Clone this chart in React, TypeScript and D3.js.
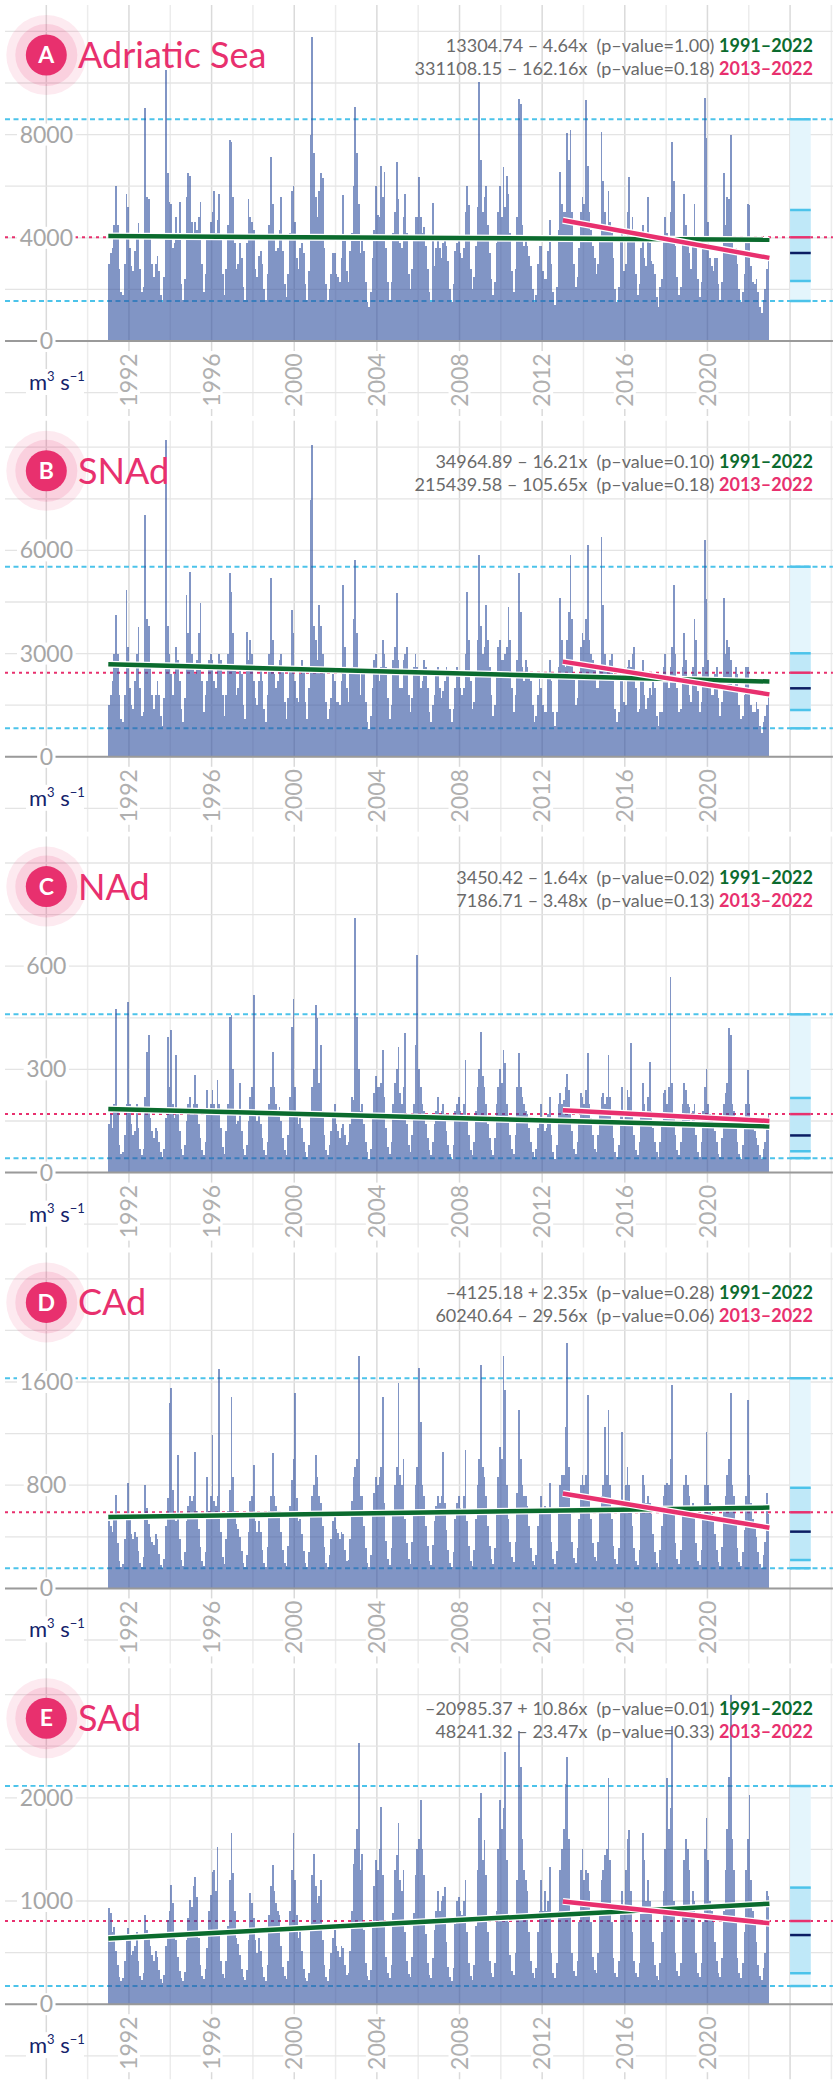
import * as d3 from 'd3';

// Monthly discharge (m3 s-1), Jan 1991 .. Dec 2022, one row per year
const adriatic = [
  [3000, 3400, 3600, 4500, 6000, 4500, 2800, 1900, 1800, 3000, 5700, 5200],
  [3600, 2900, 2700, 3500, 4000, 4560, 2800, 1900, 2100, 9040, 5600, 5500],
  [4200, 3000, 2500, 3000, 3300, 2700, 1800, 1500, 2500, 10500, 6500, 5400],
  [5300, 3600, 3800, 4800, 4200, 5400, 2200, 1600, 2400, 5600, 6500, 6400],
  [4600, 4200, 4600, 4300, 4800, 5400, 3000, 1900, 2600, 3900, 4000, 4600],
  [5000, 5800, 4200, 4700, 5700, 4000, 2600, 1800, 2800, 4500, 7800, 7700],
  [5600, 3800, 2800, 3000, 3800, 3200, 2100, 1600, 3800, 5500, 4800, 4600],
  [4300, 2800, 2500, 3300, 3500, 3000, 2000, 1600, 2600, 4500, 7150, 5300],
  [4000, 3500, 3600, 4300, 5600, 3500, 2200, 1700, 2600, 4200, 5800, 6000],
  [4600, 3200, 2800, 3600, 3800, 3400, 2200, 1600, 2700, 8000, 11800, 7270],
  [5600, 4800, 5800, 6500, 6300, 3600, 2200, 1600, 2000, 2600, 3400, 3400],
  [2600, 2500, 2300, 3200, 5650, 4000, 2700, 2300, 3500, 4200, 6000, 9080],
  [7300, 5300, 3400, 4000, 3500, 2300, 1500, 1300, 1900, 3200, 4300, 6000],
  [4900, 4800, 6800, 5600, 6560, 3600, 2300, 1600, 2300, 4200, 5000, 6950],
  [5500, 3800, 3600, 4800, 5700, 4200, 2600, 2000, 2800, 4000, 4800, 4800],
  [6370, 4800, 4200, 4400, 3700, 2800, 1900, 1500, 5340, 2900, 3600, 4000],
  [3600, 3200, 3800, 4000, 3700, 3100, 2000, 1500, 2200, 3500, 3800, 4000],
  [3400, 3200, 3600, 5000, 6000, 5260, 2800, 2000, 2500, 3700, 5200, 10050],
  [7000, 5000, 5600, 6000, 4500, 3400, 2400, 1800, 2300, 3800, 5000, 6000],
  [4800, 6750, 5200, 6400, 5700, 4200, 2700, 1900, 2800, 4800, 9370, 9200],
  [4500, 3700, 4000, 3700, 3300, 2900, 2000, 1500, 1800, 3000, 3700, 3700],
  [2700, 2400, 2400, 3500, 4700, 3000, 1900, 1400, 2100, 4300, 6560, 5300],
  [5000, 5000, 8050, 7000, 8180, 5000, 3000, 2100, 2500, 3600, 5000, 5600],
  [5300, 9340, 6800, 5000, 4300, 3700, 3200, 2600, 3000, 4000, 8110, 6200],
  [5000, 4500, 5800, 4600, 4200, 3200, 2000, 1500, 2100, 3900, 4200, 2700],
  [3000, 5000, 6370, 4300, 4800, 4000, 2600, 1800, 2200, 3600, 4500, 3200],
  [2900, 5600, 3800, 3100, 3000, 2600, 1700, 1300, 2100, 2400, 4000, 4800],
  [4200, 3800, 5000, 7730, 6200, 3700, 2500, 1800, 2100, 4000, 5700, 4500],
  [4000, 3400, 2800, 4000, 5300, 4000, 2400, 1700, 2300, 3800, 9400, 7850],
  [4600, 3200, 2900, 2700, 3200, 3200, 2200, 1600, 2300, 6500, 4500, 5600],
  [5500, 7980, 3800, 3400, 3600, 3000, 2000, 1500, 1900, 2600, 4000, 5300],
  [5270, 2900, 2300, 2200, 2400, 1900, 1300, 1100, 1600, 2000, 2800, 3200],
];

const snad = [
  [1500, 1800, 2200, 3000, 4120, 3000, 1800, 1100, 1000, 1800, 4849, 3200],
  [2000, 1500, 1400, 2200, 3000, 3783, 2000, 1200, 1300, 7025, 4000, 3800],
  [2600, 1800, 1400, 1800, 2200, 1800, 1200, 900, 1700, 9209, 3800, 3000],
  [2400, 1800, 2400, 3200, 2800, 2200, 1400, 1000, 1700, 4703, 3600, 5382],
  [3000, 2600, 2400, 2800, 3600, 4461, 2200, 1300, 1800, 2200, 2800, 3000],
  [2800, 2200, 2000, 2600, 3000, 2800, 1800, 1200, 1800, 3000, 5333, 4800],
  [3600, 2600, 1800, 2000, 2600, 2400, 1500, 1100, 3638, 2800, 3400, 3000],
  [2200, 1700, 1500, 2200, 2600, 2200, 1400, 1000, 1800, 3000, 5188, 3400],
  [2400, 2000, 2200, 2800, 3000, 2600, 1600, 1100, 1700, 2600, 4267, 3600],
  [2200, 1700, 1600, 2400, 2800, 2600, 1600, 1100, 2000, 7465, 9064, 3800],
  [3400, 2800, 4400, 3800, 3000, 2600, 1600, 1100, 1400, 1700, 2400, 2200],
  [1600, 1600, 1500, 2200, 4994, 3200, 2000, 1600, 2400, 2600, 4000, 5721],
  [3600, 2400, 1800, 2400, 2400, 1600, 1000, 800, 1200, 2000, 2800, 3000],
  [2400, 2200, 2600, 3400, 3000, 2600, 1700, 1100, 1500, 2800, 3200, 4752],
  [2800, 2000, 2000, 2800, 3000, 3200, 1800, 1300, 1700, 2600, 3000, 2600],
  [2400, 2000, 2200, 2800, 2600, 2000, 1300, 1000, 1500, 1800, 2400, 2600],
  [2000, 1700, 1900, 2200, 2600, 2400, 1400, 1000, 1400, 2000, 2600, 2400],
  [2000, 1800, 2000, 3000, 4800, 3400, 2200, 1400, 1600, 2400, 3400, 5866],
  [3800, 3000, 3200, 4400, 3400, 2600, 1800, 1200, 1500, 2400, 3200, 3400],
  [2800, 2800, 3000, 3200, 4364, 3400, 2000, 1300, 1800, 2800, 5333, 4200],
  [2600, 2200, 2800, 2600, 2400, 2200, 1500, 1000, 1200, 1800, 2400, 2000],
  [1500, 1300, 1300, 2400, 2800, 2200, 1300, 900, 1300, 2600, 4606, 3400],
  [2800, 2600, 3400, 4200, 5866, 4000, 2400, 1500, 1700, 2400, 3200, 3600],
  [3400, 4000, 6157, 3400, 3000, 2800, 2600, 2000, 2000, 2600, 6399, 4400],
  [3000, 2600, 2600, 2800, 3000, 2400, 1400, 1000, 1300, 2400, 2200, 1600],
  [1500, 2600, 2800, 2600, 3000, 3200, 2000, 1300, 1400, 2200, 2800, 1800],
  [1400, 1700, 2000, 1800, 2200, 2000, 1200, 900, 1300, 1300, 2600, 3000],
  [2200, 2000, 2600, 3200, 4994, 3000, 2000, 1300, 1400, 2600, 3600, 2800],
  [2200, 1800, 1600, 2600, 4000, 3400, 1900, 1300, 1600, 2600, 6300, 4600],
  [2800, 2000, 1800, 1800, 2400, 2600, 1700, 1200, 1600, 4606, 3000, 3400],
  [3200, 2800, 2000, 2000, 2600, 2400, 1500, 1100, 1200, 1800, 2600, 2600],
  [1900, 1500, 1300, 1300, 1600, 1400, 900, 700, 1000, 1200, 1500, 1800],
];

const nad = [
  [140, 170, 130, 200, 477, 180, 80, 55, 60, 110, 200, 497],
  [200, 140, 110, 120, 200, 130, 70, 50, 70, 220, 350, 400],
  [160, 120, 100, 130, 120, 90, 60, 45, 70, 160, 395, 250],
  [415, 200, 160, 342, 180, 120, 70, 50, 80, 150, 200, 220],
  [180, 200, 284, 200, 140, 100, 65, 50, 90, 240, 170, 200],
  [240, 200, 180, 270, 200, 130, 75, 55, 120, 200, 453, 458],
  [300, 180, 140, 150, 260, 120, 70, 50, 80, 150, 220, 250],
  [516, 180, 150, 170, 140, 100, 65, 50, 90, 200, 250, 351],
  [250, 200, 180, 190, 150, 100, 65, 50, 110, 220, 424, 504],
  [250, 180, 140, 160, 130, 90, 60, 45, 80, 170, 250, 300],
  [487, 450, 260, 371, 180, 110, 65, 50, 80, 120, 170, 200],
  [140, 120, 100, 130, 140, 110, 80, 90, 140, 220, 210, 740],
  [453, 300, 180, 200, 140, 90, 60, 40, 70, 160, 230, 280],
  [250, 250, 260, 356, 220, 130, 75, 55, 90, 200, 260, 300],
  [366, 230, 200, 250, 405, 140, 80, 60, 110, 200, 371, 633],
  [300, 250, 200, 180, 140, 100, 65, 50, 90, 140, 180, 220],
  [170, 180, 200, 170, 120, 80, 55, 40, 80, 180, 200, 220],
  [180, 170, 200, 327, 160, 110, 65, 50, 90, 180, 250, 300],
  [410, 280, 250, 200, 140, 100, 65, 50, 100, 200, 250, 300],
  [260, 356, 320, 200, 160, 110, 70, 55, 110, 250, 347, 250],
  [220, 200, 180, 170, 130, 90, 60, 45, 70, 130, 160, 200],
  [140, 120, 130, 170, 220, 110, 60, 40, 80, 200, 230, 200],
  [210, 250, 288, 240, 180, 120, 70, 55, 90, 160, 230, 220],
  [200, 240, 347, 200, 160, 110, 70, 60, 110, 180, 220, 230],
  [200, 220, 342, 220, 150, 100, 60, 45, 80, 170, 250, 150],
  [180, 240, 220, 376, 170, 110, 65, 50, 90, 180, 260, 200],
  [170, 220, 322, 180, 130, 90, 60, 45, 90, 150, 230, 240],
  [200, 250, 570, 260, 170, 110, 65, 50, 90, 200, 260, 240],
  [200, 190, 150, 180, 200, 110, 60, 45, 90, 180, 250, 300],
  [200, 170, 150, 140, 120, 90, 55, 45, 100, 200, 230, 260],
  [419, 400, 200, 180, 140, 90, 55, 40, 80, 130, 200, 298],
  [200, 160, 130, 120, 100, 80, 50, 40, 70, 90, 160, 170],
];

const cad = [
  [520, 480, 440, 560, 723, 350, 210, 165, 190, 380, 560, 814],
  [540, 420, 380, 440, 400, 290, 195, 165, 240, 800, 620, 500],
  [400, 360, 340, 420, 380, 270, 185, 155, 230, 480, 700, 1434],
  [1550, 760, 560, 520, 1033, 380, 220, 175, 280, 520, 640, 720],
  [680, 720, 1060, 600, 460, 320, 210, 175, 280, 866, 600, 720],
  [1190, 680, 640, 720, 1700, 440, 240, 190, 380, 600, 760, 1486],
  [860, 600, 500, 460, 400, 290, 195, 165, 260, 440, 680, 720],
  [956, 520, 440, 520, 440, 300, 200, 165, 320, 600, 720, 1046],
  [720, 640, 600, 600, 440, 300, 200, 175, 330, 640, 840, 1000],
  [1512, 700, 520, 540, 420, 290, 195, 165, 280, 560, 720, 800],
  [1033, 860, 720, 660, 480, 320, 200, 165, 260, 380, 520, 600],
  [460, 430, 380, 440, 420, 300, 210, 220, 380, 680, 860, 940],
  [1000, 1800, 720, 720, 480, 310, 200, 165, 260, 560, 740, 860],
  [800, 860, 940, 1486, 660, 370, 225, 180, 310, 600, 800, 940],
  [1589, 880, 800, 1000, 540, 350, 225, 190, 360, 600, 800, 940],
  [1706, 1292, 800, 720, 480, 330, 215, 180, 340, 520, 640, 720],
  [660, 720, 1060, 660, 450, 300, 200, 165, 280, 540, 660, 720],
  [620, 600, 720, 1072, 520, 330, 210, 175, 300, 540, 800, 1000],
  [1731, 940, 860, 720, 480, 330, 225, 190, 310, 600, 860, 1100],
  [1000, 1800, 1538, 800, 540, 360, 240, 205, 360, 740, 1383, 1000],
  [800, 720, 720, 640, 480, 310, 215, 180, 260, 480, 600, 720],
  [580, 640, 580, 620, 820, 360, 225, 190, 290, 600, 800, 880],
  [880, 1253, 1900, 940, 580, 360, 235, 200, 310, 540, 800, 880],
  [800, 880, 1499, 720, 540, 350, 240, 215, 360, 600, 720, 800],
  [1253, 880, 1383, 800, 540, 330, 225, 190, 310, 600, 1214, 660],
  [800, 940, 800, 660, 480, 310, 215, 180, 300, 600, 880, 800],
  [660, 720, 660, 580, 420, 280, 200, 165, 300, 480, 720, 800],
  [814, 800, 1000, 1576, 580, 350, 225, 190, 300, 600, 800, 880],
  [800, 720, 580, 660, 640, 350, 215, 180, 300, 540, 800, 1214],
  [800, 660, 580, 540, 420, 300, 205, 170, 320, 600, 720, 880],
  [1000, 1512, 800, 720, 500, 310, 205, 170, 280, 450, 720, 1460],
  [880, 660, 540, 500, 400, 280, 190, 155, 260, 360, 737, 580],
];

const sad = [
  [930, 880, 700, 750, 520, 380, 260, 220, 250, 420, 640, 735],
  [620, 480, 520, 560, 700, 420, 270, 230, 300, 860, 720, 680],
  [560, 480, 420, 520, 460, 330, 240, 210, 280, 560, 820, 900],
  [1155, 980, 700, 620, 460, 320, 250, 220, 310, 620, 840, 1010],
  [940, 1150, 1235, 1040, 640, 380, 270, 240, 340, 540, 900, 1060],
  [1284, 1300, 1100, 1526, 700, 420, 290, 250, 420, 760, 1200, 1655],
  [1270, 900, 640, 580, 480, 340, 260, 230, 330, 620, 1073, 980],
  [840, 620, 500, 640, 520, 360, 260, 220, 380, 860, 1150, 1348],
  [1100, 980, 900, 860, 560, 360, 270, 240, 420, 900, 1300, 1655],
  [1200, 860, 640, 700, 520, 340, 250, 220, 300, 720, 1250, 1460],
  [1150, 980, 1050, 1200, 620, 380, 260, 220, 340, 500, 640, 720],
  [560, 520, 460, 560, 540, 380, 280, 300, 520, 900, 1360, 1500],
  [1700, 2527, 1300, 1460, 720, 400, 270, 230, 330, 760, 1150, 1400],
  [1300, 1500, 1914, 1250, 780, 460, 300, 250, 380, 880, 1300, 1450],
  [1752, 1200, 1100, 1300, 700, 420, 290, 260, 460, 880, 1250, 1500],
  [1600, 1978, 1500, 1250, 680, 400, 280, 250, 450, 720, 900, 1100],
  [900, 1000, 1050, 1138, 600, 360, 260, 220, 350, 780, 1000, 1040],
  [900, 860, 1000, 1200, 700, 400, 270, 230, 380, 760, 1300, 1800],
  [2043, 1400, 1590, 1250, 700, 420, 300, 260, 400, 900, 1500, 1978],
  [1700, 1900, 2447, 1400, 800, 480, 320, 280, 500, 1200, 2650, 2300],
  [1600, 1300, 1200, 1100, 700, 420, 300, 250, 350, 700, 900, 1200],
  [900, 1100, 900, 1000, 1330, 500, 300, 250, 400, 900, 1300, 1500],
  [1700, 2130, 2400, 1600, 900, 500, 320, 270, 420, 800, 1300, 1500],
  [1200, 1300, 1270, 1100, 800, 460, 330, 300, 500, 900, 1200, 1300],
  [1445, 1500, 2190, 1400, 800, 450, 300, 260, 420, 900, 1100, 900],
  [1300, 1600, 1687, 1100, 700, 420, 300, 260, 400, 900, 1655, 1400],
  [1000, 1200, 1000, 900, 600, 380, 270, 230, 400, 700, 1100, 1500],
  [2190, 1700, 1900, 2700, 1000, 500, 320, 270, 400, 900, 1400, 1600],
  [1500, 1300, 900, 1100, 1000, 500, 300, 260, 400, 800, 1500, 1800],
  [1400, 1000, 900, 800, 600, 420, 300, 260, 450, 900, 1300, 1700],
  [2200, 3000, 1600, 1300, 800, 450, 300, 250, 400, 700, 1300, 1600],
  [2027, 1200, 900, 800, 600, 380, 270, 230, 350, 500, 1100, 1050],
];

const regionNames = ['Adriatic Sea', 'SNAd', 'NAd', 'CAd', 'SAd'];
const regionLetters = ['A', 'B', 'C', 'D', 'E'];
const regionSeries = [adriatic, snad, nad, cad, sad];
const gridSteps = [2000, 1500, 150, 400, 500];

// summary statistics drawn on the right-hand box
const meanValues = [4019, 2445, 170, 590, 806];
const upperWhisker = [8593, 5526, 460, 1629, 2114];
const lowerWhisker = [1550, 828, 42, 156, 176];
const upperQuartile = [5078, 3009, 217, 780, 1130];
const medianValues = [3411, 1991, 108, 440, 670];
const lowerQuartile = [2326, 1360, 62, 220, 300];

// linear fits
const fullPeriod = [1991, 2022];
const recentPeriod = [2013, 2022];
const fullIntercept = [13304.74, 34964.89, 3450.42, -4125.18, -20985.37];
const fullSlope = [-4.64, -16.21, -1.64, 2.35, 10.86];
const fullPValue = ['1.00', '0.10', '0.02', '0.28', '0.01'];
const recentIntercept = [331108.15, 215439.58, 7186.71, 60240.64, 48241.32];
const recentSlope = [-162.16, -105.65, -3.48, -29.56, -23.47];
const recentPValue = ['0.18', '0.18', '0.13', '0.06', '0.33'];

const yearTicks = [1992, 1996, 2000, 2004, 2008, 2012, 2016, 2020];

const W = 839;
const H = 2087;
const PINK = '#e8306e';
const GREEN = '#0b6b2e';
const CYAN = '#4cc3ea';
const STEP_PX = 51.6;

const x = d3.scaleLinear().domain([1986, 2026]).range([5, 831.4]);

function fmtEq(a: number, b: number, p: string) {
  const first = a < 0 ? '–' + Math.abs(a).toFixed(2) : a.toFixed(2);
  const op = b < 0 ? ' – ' : ' + ';
  return `${first}${op}${Math.abs(b).toFixed(2)}x  (p–value=${p}) `;
}

function Panel({ i }: { i: number }) {
  const zero = 341 + 415.8 * i;
  const step = gridSteps[i];
  const y = d3.scaleLinear().domain([0, step]).range([zero, zero - STEP_PX]);
  const top = zero - 336;
  const bottom = zero + 75;
  const left = x(1986);
  const right = x(2026) + 1.5;
  const values = regionSeries[i].flat();
  const monthW = x(1991 + 1 / 12) - x(1991);
  const gridYears = d3.range(1988, 2027, 2);
  const gridVals = d3.range(-1, 7).map((k) => k * step);
  const labelVals = [0, 2 * step, 4 * step];
  const labX = x(1988);

  const fit = (a: number, b: number, [y0, y1]: number[]) =>
    `M${x(y0)},${y(a + b * y0)}L${x(y1 + 1)},${y(a + b * y1)}`;
  const fullPath = fit(fullIntercept[i], fullSlope[i], fullPeriod);
  const recentPath = fit(recentIntercept[i], recentSlope[i], recentPeriod);

  const bx0 = x(2024);
  const bx1 = x(2025);

  return (
    <g>
      {/* grid */}
      {gridYears.map((yr) => (
        <line key={'v' + yr} x1={x(yr)} x2={x(yr)} y1={top} y2={bottom}
          stroke={yr % 4 === 0 ? '#dadada' : '#ececec'} strokeWidth={1.5} />
      ))}
      {gridVals.map((v) => (
        <line key={'h' + v} x1={left} x2={right} y1={y(v)} y2={y(v)}
          stroke="#e4e4e4" strokeWidth={1.3} />
      ))}

      {/* reference levels */}
      <line x1={left} x2={right} y1={y(upperWhisker[i])} y2={y(upperWhisker[i])}
        stroke={CYAN} strokeWidth={2} strokeDasharray="5 3.5" />
      <line x1={left} x2={right} y1={y(lowerWhisker[i])} y2={y(lowerWhisker[i])}
        stroke={CYAN} strokeWidth={2} strokeDasharray="5 3.5" />
      <line x1={left} x2={right} y1={y(meanValues[i])} y2={y(meanValues[i])}
        stroke={PINK} strokeWidth={2} strokeDasharray="3 4" />

      {/* bars */}
      <g opacity={0.6} fill="#2f4f9f" shapeRendering="crispEdges">
        {values.map((v, k) => (
          <rect key={k} x={x(1991 + k / 12)} width={monthW} y={y(v)} height={zero - y(v)} />
        ))}
      </g>

      {/* box summary */}
      <rect x={bx0} width={bx1 - bx0} y={y(upperWhisker[i])}
        height={y(lowerWhisker[i]) - y(upperWhisker[i])} fill="#e4f5fc" />
      <rect x={bx0} width={bx1 - bx0} y={y(upperQuartile[i])}
        height={y(lowerQuartile[i]) - y(upperQuartile[i])} fill="#bfe8f8" />
      {[upperWhisker[i], upperQuartile[i], lowerQuartile[i], lowerWhisker[i]].map((v, k) => (
        <line key={'b' + k} x1={bx0} x2={bx1} y1={y(v)} y2={y(v)} stroke={CYAN} strokeWidth={2.5} />
      ))}
      <line x1={bx0} x2={bx1} y1={y(meanValues[i])} y2={y(meanValues[i])} stroke={PINK} strokeWidth={2.5} />
      <line x1={bx0} x2={bx1} y1={y(medianValues[i])} y2={y(medianValues[i])} stroke="#0b1d63" strokeWidth={2.5} />

      {/* zero line */}
      <line x1={left} x2={right} y1={zero} y2={zero} stroke="#9a9a9a" strokeWidth={2} />

      {/* fits */}
      <path d={fullPath} stroke="#fff" strokeWidth={7} fill="none" />
      <path d={fullPath} stroke={GREEN} strokeWidth={4.5} fill="none" />
      <path d={recentPath} stroke="#fff" strokeWidth={7} fill="none" />
      <path d={recentPath} stroke={PINK} strokeWidth={4.5} fill="none" />

      {/* y labels */}
      {labelVals.map((v) => {
        const s = String(v);
        const w = s.length * 13.4 + 5;
        return (
          <g key={'l' + v}>
            <rect x={labX - w / 2} y={y(v) - 11} width={w} height={22} fill="#fff" />
            <text x={labX} y={y(v)} dy="0.35em" textAnchor="middle" fontSize={23}
              fill="#a6a6a6">{s}</text>
          </g>
        );
      })}

      {/* x labels */}
      {yearTicks.map((yr) => (
        <g key={'x' + yr} transform={`translate(${x(yr)},${zero + 39}) rotate(-90)`}>
          <rect x={-29} y={-11} width={58} height={22} fill="#fff" />
          <text dy="0.35em" textAnchor="middle" fontSize={23} fill="#b0b0b0">{yr}</text>
        </g>
      ))}

      {/* unit */}
      <rect x={26} y={zero + 28} width={58} height={26} fill="#fff" />
      <text x={29} y={zero + 49} fontSize={22} fill="#14236b">
        m<tspan dy={-9} fontSize={13}>3</tspan><tspan dy={9}> s</tspan><tspan dy={-9} fontSize={13}>−1</tspan>
      </text>

      {/* title */}
      <circle cx={labX} cy={zero - 286} r={40} fill={PINK} opacity={0.1} />
      <circle cx={labX} cy={zero - 286} r={31} fill={PINK} opacity={0.14} />
      <circle cx={labX} cy={zero - 286} r={20.5} fill={PINK} />
      <text x={labX} y={zero - 286} dy="0.36em" textAnchor="middle" fontSize={23}
        fontWeight={700} fill="#fff">{regionLetters[i]}</text>
      <text x={78} y={zero - 273} fontSize={36} fill={PINK}>{regionNames[i]}</text>

      {/* equations */}
      <text x={813} y={zero - 289} textAnchor="end" fontSize={18} fill="#6a6a6a"
        style={{ whiteSpace: 'pre' }}>
        {fmtEq(fullIntercept[i], fullSlope[i], fullPValue[i])}
        <tspan fill={GREEN} fontWeight={700}>{`${fullPeriod[0]}–${fullPeriod[1]}`}</tspan>
      </text>
      <text x={813} y={zero - 266} textAnchor="end" fontSize={18} fill="#6a6a6a"
        style={{ whiteSpace: 'pre' }}>
        {fmtEq(recentIntercept[i], recentSlope[i], recentPValue[i])}
        <tspan fill={PINK} fontWeight={700}>{`${recentPeriod[0]}–${recentPeriod[1]}`}</tspan>
      </text>
    </g>
  );
}

export default function App() {
  return (
    <svg width={W} height={H} style={{ position: 'absolute', left: 0, top: 0, background: '#fff' }}
      fontFamily="Lato, 'Open Sans', sans-serif">
      {regionNames.map((_, i) => <Panel key={i} i={i} />)}
    </svg>
  );
}
